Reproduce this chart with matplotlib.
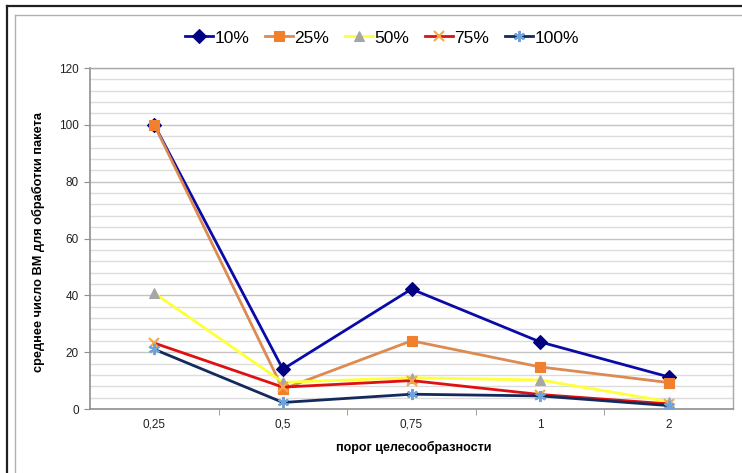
import matplotlib
matplotlib.use("Agg")
import matplotlib.pyplot as plt
from matplotlib.lines import Line2D
from matplotlib.ticker import MultipleLocator

plt.rcParams["font.family"] = ["Liberation Sans", "DejaVu Sans"]

# Data
thresholds = ["0,25", "0,5", "0,75", "1", "2"]
series_names = ["10%", "25%", "50%", "75%", "100%"]
vals_10 = [100, 14.0, 42.2, 23.6, 11.3]
vals_25 = [100, 7.0, 24.0, 14.8, 9.3]
vals_50 = [40.8, 9.4, 11.0, 10.2, 2.6]
vals_75 = [23.2, 7.7, 10.0, 5.1, 1.8]
vals_100 = [21.0, 2.3, 5.2, 4.6, 1.2]

series_values = [vals_10, vals_25, vals_50, vals_75, vals_100]

# Styles: (line colour, marker, marker face, marker edge, marker size)
styles = [
    ("#0A0AA8", "D", "#000080", "#000080", 7),
    ("#DC8A52", "s", "#F07F2E", "#F07F2E", 6.5),
    ("#FFFF3A", "^", "#A6A6A6", "#A6A6A6", 7),
    ("#E01010", "x", "#F4A848", "#F4A848", 7),
    ("#142A5C", (6, 2, 0), "#6FA3DA", "#6FA3DA", 8),
]

W, H = 742, 473
fig = plt.figure(figsize=(W / 100, H / 100), dpi=100)
fig.patch.set_facecolor("white")

# Outer frame lines
fig.add_artist(Line2D([7 / W, 7 / W], [0, 1 - 6 / H], transform=fig.transFigure,
                      color="#202020", lw=1.6))
fig.add_artist(Line2D([7 / W, 1], [1 - 6 / H, 1 - 6 / H], transform=fig.transFigure,
                      color="#202020", lw=1.6))
fig.add_artist(Line2D([15 / W, 15 / W], [0, 1 - 15 / H], transform=fig.transFigure,
                      color="#B0B0B0", lw=1.0))
fig.add_artist(Line2D([15 / W, 1], [1 - 15 / H, 1 - 15 / H], transform=fig.transFigure,
                      color="#B0B0B0", lw=1.0))

left, right, top, bottom = 90, 733, 68, 409
ax = fig.add_axes([left / W, 1 - bottom / H, (right - left) / W, (bottom - top) / H])

x = list(range(len(thresholds)))
handles = []
for name, vals, (lc, mk, mfc, mec, ms) in zip(series_names, series_values, styles):
    h, = ax.plot(x, vals, color=lc, lw=2.0, marker=mk, markerfacecolor=mfc,
                 markeredgecolor=mec, markersize=ms,
                 markeredgewidth=1.5 if mk in ("x", (6, 2, 0)) else 0.8,
                 label=name, zorder=3)
    handles.append(h)

ax.set_xlim(-0.5, len(thresholds) - 0.5)
ax.set_ylim(0, 120)
ax.yaxis.set_major_locator(MultipleLocator(20))
ax.yaxis.set_minor_locator(MultipleLocator(4))
ax.grid(which="major", axis="y", color="#C4C4C4", lw=1.0, zorder=0)
ax.grid(which="minor", axis="y", color="#DCDCDC", lw=1.0, zorder=0)

ax.set_xticks(x)
ax.set_xticklabels(thresholds)
ax.set_xticks([i + 0.5 for i in range(len(thresholds) - 1)], minor=True)
ax.tick_params(axis="x", which="major", length=0, pad=7, labelsize=8.5, labelcolor="#222222")
ax.tick_params(axis="x", which="minor", length=4, color="#909090", direction="out")
ax.tick_params(axis="y", which="major", length=4, color="#909090", pad=4,
               labelsize=8.5, labelcolor="#222222")
ax.tick_params(axis="y", which="minor", length=0)

for side in ("top", "right"):
    ax.spines[side].set_color("#A8A8A8")
    ax.spines[side].set_linewidth(1.0)
for side in ("left", "bottom"):
    ax.spines[side].set_color("#909090")
    ax.spines[side].set_linewidth(1.2)

ax.set_xlabel("порог целесообразности", fontsize=9, fontweight="bold")
ax.set_ylabel("среднее число ВМ для обработки пакета", fontsize=9.2, fontweight="bold")
# Place axis titles at fixed pixel positions
ax.xaxis.set_label_coords((414 - left) / (right - left), (bottom - 447) / (bottom - top))
ax.yaxis.set_label_coords((38 - left) / (right - left), (bottom - 242) / (bottom - top))
ax.xaxis.label.set_va("center")
ax.yaxis.label.set_va("center")

fig.legend(handles=handles, labels=series_names, loc="center",
           bbox_to_anchor=(382 / W, 1 - 38 / H), ncol=5, frameon=False,
           fontsize=12.5, handlelength=1.6, handletextpad=0.1, columnspacing=0.9)

fig.savefig("out.png", dpi=100, facecolor="white")
